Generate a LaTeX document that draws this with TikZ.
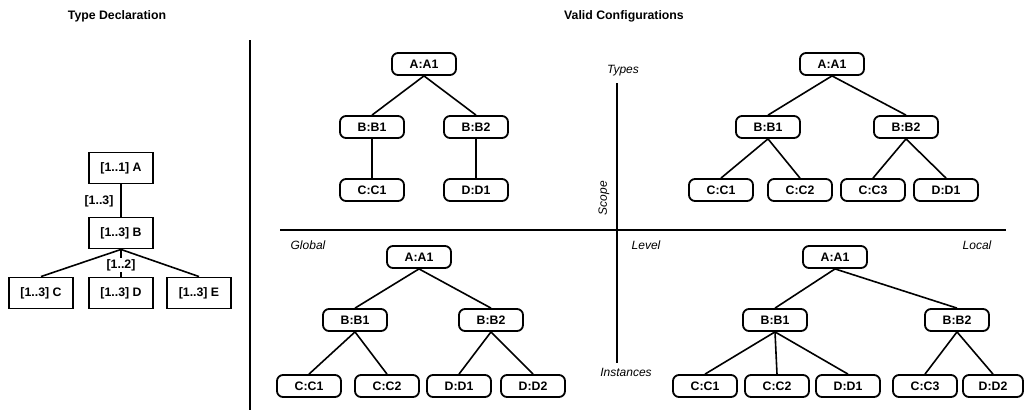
\documentclass[tikz,border=0pt]{standalone}
\usepackage{fontspec}
\setmainfont{Liberation Sans}
\begin{document}
\begin{tikzpicture}[x=1pt,y=-1pt,
  cfg/.style={draw,rounded corners=6pt,line width=1.8pt,minimum width=64pt,minimum height=22pt,inner sep=1pt,font=\fontsize{12.3}{14}\selectfont\bfseries},
  decl/.style={draw,line width=1.9pt,minimum width=64pt,minimum height=31pt,inner sep=1pt,font=\fontsize{12.3}{14}\selectfont\bfseries},
  edge/.style={line width=1.6pt},
  mult/.style={font=\fontsize{12.3}{14}\selectfont\bfseries,inner sep=1pt},
  title/.style={font=\fontsize{12.3}{14}\selectfont\bfseries},
  axlab/.style={font=\fontsize{12}{14}\selectfont\itshape,inner sep=0pt},
  axis/.style={line width=1.5pt}]
\useasboundingbox (0,0) rectangle (1025,410);
% titles
\node[title] (t1) at (117,16) {Type Declaration};
\node[title] (t2) at (624,16) {Valid Configurations};
% separator
\coordinate (s1) at (250,40);
\coordinate (s2) at (250,410);
\draw[line width=2pt] (s1) -- (s2);
% type declaration
\node[decl] (dA) at (121,168) {[1..1] A};
\node[decl] (dB) at (121,233) {[1..3] B};
\node[decl] (dC) at (41,293) {[1..3] C};
\node[decl] (dD) at (121,293) {[1..3] D};
\node[decl] (dE) at (199,293) {[1..3] E};
\draw[edge] (dA.south) -- (dB.north);
\draw[edge] (dB.south) -- (dC.north);
\draw[edge] (dB.south) -- (dD.north);
\draw[edge] (dB.south) -- (dE.north);
\node[mult] (m1) at (99,201) {[1..3]};
\node[mult,fill=white] (m2) at (121,265) {[1..2]};
% axes
\coordinate (h1) at (280,230);
\coordinate (h2) at (1006,230);
\coordinate (v1) at (617,83);
\coordinate (v2) at (617,363);
\draw[axis] (h1) -- (h2);
\draw[axis] (v1) -- (v2);
\node[axlab] (lt) at (623,71) {Types};
\node[axlab,rotate=90] (ls) at (604,198) {Scope};
\node[axlab] (li) at (626,372) {Instances};
\node[axlab] (lv) at (646,245) {Level};
\node[axlab] (lg) at (308,245) {Global};
\node[axlab] (ll) at (977,245) {Local};
% top-left tree
\node[cfg] (a1) at (424,64) {A:A1};
\node[cfg] (a2) at (372,127) {B:B1};
\node[cfg] (a3) at (476,127) {B:B2};
\node[cfg] (a4) at (372,190) {C:C1};
\node[cfg] (a5) at (476,190) {D:D1};
\draw[edge] (a1.south) -- (a2.north);
\draw[edge] (a1.south) -- (a3.north);
\draw[edge] (a2.south) -- (a4.north);
\draw[edge] (a3.south) -- (a5.north);
% top-right tree
\node[cfg] (b1) at (832,64) {A:A1};
\node[cfg] (b2) at (768,127) {B:B1};
\node[cfg] (b3) at (906,127) {B:B2};
\node[cfg] (b4) at (721,190) {C:C1};
\node[cfg] (b5) at (800,190) {C:C2};
\node[cfg] (b6) at (873,190) {C:C3};
\node[cfg] (b7) at (946,190) {D:D1};
\draw[edge] (b1.south) -- (b2.north);
\draw[edge] (b1.south) -- (b3.north);
\draw[edge] (b2.south) -- (b4.north);
\draw[edge] (b2.south) -- (b5.north);
\draw[edge] (b3.south) -- (b6.north);
\draw[edge] (b3.south) -- (b7.north);
% bottom-left tree
\node[cfg] (c1) at (419,257) {A:A1};
\node[cfg] (c2) at (355,320) {B:B1};
\node[cfg] (c3) at (491,320) {B:B2};
\node[cfg] (c4) at (309,386) {C:C1};
\node[cfg] (c5) at (387,386) {C:C2};
\node[cfg] (c6) at (459,386) {D:D1};
\node[cfg] (c7) at (533,386) {D:D2};
\draw[edge] (c1.south) -- (c2.north);
\draw[edge] (c1.south) -- (c3.north);
\draw[edge] (c2.south) -- (c4.north);
\draw[edge] (c2.south) -- (c5.north);
\draw[edge] (c3.south) -- (c6.north);
\draw[edge] (c3.south) -- (c7.north);
% bottom-right tree
\node[cfg] (d1) at (835,257) {A:A1};
\node[cfg] (d2) at (775,320) {B:B1};
\node[cfg] (d3) at (957,320) {B:B2};
\node[cfg] (d4) at (705,386) {C:C1};
\node[cfg] (d5) at (777,386) {C:C2};
\node[cfg] (d6) at (848,386) {D:D1};
\node[cfg] (d7) at (925,386) {C:C3};
\node[cfg,minimum width=60pt] (d8) at (993,386) {D:D2};
\draw[edge] (d1.south) -- (d2.north);
\draw[edge] (d1.south) -- (d3.north);
\draw[edge] (d2.south) -- (d4.north);
\draw[edge] (d2.south) -- (d5.north);
\draw[edge] (d2.south) -- (d6.north);
\draw[edge] (d3.south) -- (d7.north);
\draw[edge] (d3.south) -- (d8.north);
\end{tikzpicture}
\end{document}
